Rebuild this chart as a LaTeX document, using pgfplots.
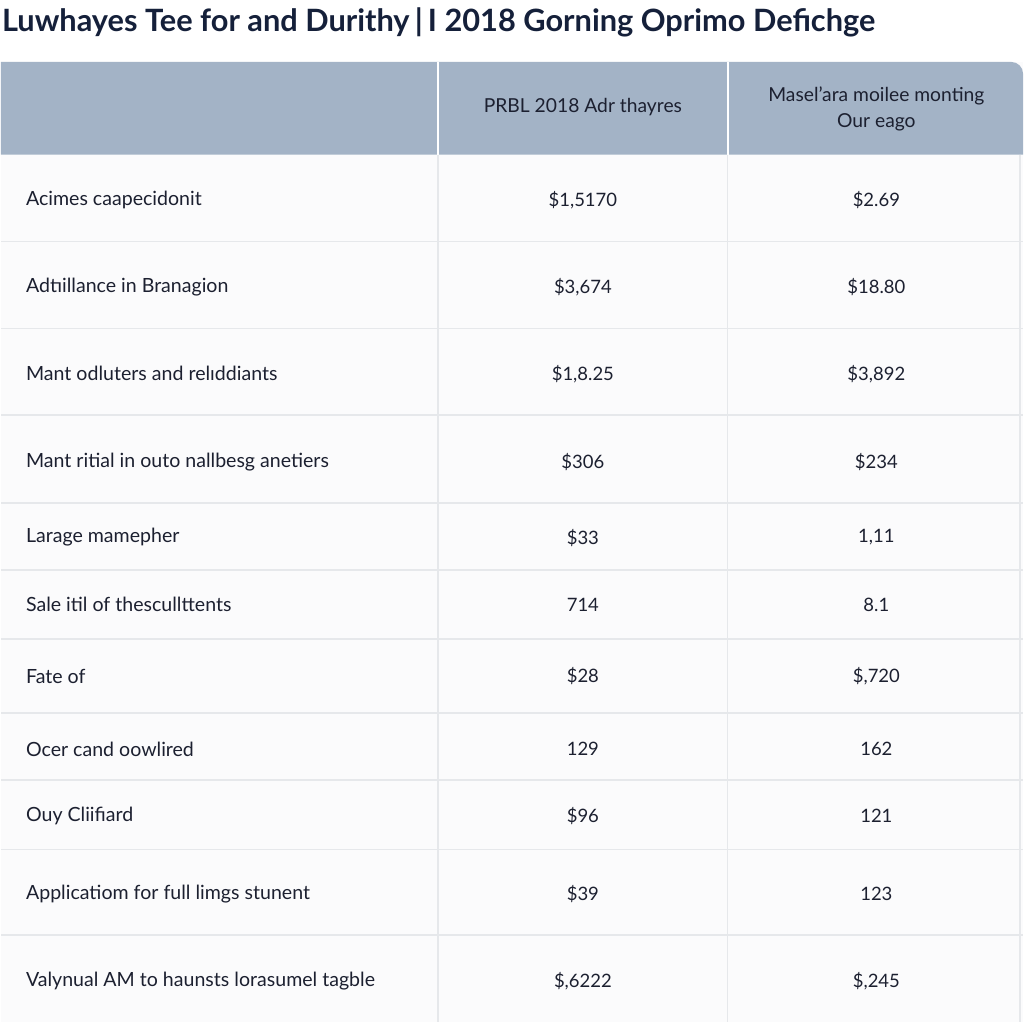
\documentclass[border=0pt]{standalone}
\usepackage{pgfplots}
\pgfplotsset{compat=1.18}
\usepackage{pgfplotstable}
\usepackage{fontspec}
\setmainfont{Lato}
\definecolor{hdr}{HTML}{A3B3C6}
\definecolor{txt}{HTML}{1C2030}
\definecolor{ttl}{HTML}{15203A}
\definecolor{gridc}{HTML}{E6E8EB}
\definecolor{bg}{HTML}{FBFBFC}

\pgfplotstableread[col sep=semicolon]{
y;label;a;b
198;Acimes caapecidonit;\$1,5170;\$2.69
285;Adtıillance in Branagion;\$3,674;\$18.80
372;Mant odluters and relıddiants;\$1,8.25;\$3,892
460;Mant ritial in outo nallbesg anetiers;\$306;\$234
536;Larage mamepher;\$33;1,11
603;Sale itil of thescullttents;714;8.1
675;Fate of;\$28;\$,720
748;Ocer cand oowlired;129;162
815;Ouy Cliifiard;\$96;121
893;Applicatiom for full limgs stunent;\$39;123
980;Valynual AM to haunsts lorasumel tagble;\$,6222;\$,245
}\rows

\begin{document}
\begin{tikzpicture}
\begin{axis}[
  scale only axis, width=1024pt, height=1024pt,
  xmin=0, xmax=1024, ymin=0, ymax=1024, y dir=reverse,
  axis lines=none, ticks=none, clip=false,
  nodes near coords, point meta=explicit symbolic,
  every node near coord/.append style={font=\fontsize{18.5}{22}\selectfont, text=txt, inner sep=0pt, yshift=-2.5pt},
]
% background
\fill[white] (axis cs:0,0) rectangle (axis cs:1024,1024);
\fill[bg] (axis cs:0,62) rectangle (axis cs:1024,1024);
% header band
\fill[hdr] (axis cs:0,155) -- (axis cs:0,62) [rounded corners=12pt] -- (axis cs:1024,62) [sharp corners] -- (axis cs:1024,155) -- cycle;
\draw[white, line width=2pt] (axis cs:438,62) -- (axis cs:438,155);
\draw[white, line width=2pt] (axis cs:728,62) -- (axis cs:728,155);
% grid
\draw[gridc, line width=1.5pt] (axis cs:438,155) -- (axis cs:438,1024);
\draw[gridc, line width=1.5pt] (axis cs:728,155) -- (axis cs:728,1024);
\draw[gridc, line width=1.5pt] (axis cs:1021,155) -- (axis cs:1021,1024);
\foreach \yy in {242,329,416,504,571,640,714,781,851,937} {
  \edef\temp{\noexpand\draw[gridc, line width=1.8pt] (axis cs:0,\yy) -- (axis cs:1024,\yy);}
  \temp
}
% title
\node[anchor=west, inner sep=0pt, text=ttl, font=\fontsize{30.8}{34}\selectfont\bfseries] at (axis cs:1,22) {Luwhayes Tee for and Durithy\,|\,I 2018 Gorning Oprimo Defichge};
% header text
\node[text=txt, font=\fontsize{19.3}{23}\selectfont] at (axis cs:583,107) {PRBL 2018 Adr thayres};
\node[text=txt, font=\fontsize{19.3}{23}\selectfont, align=center] at (axis cs:877,109.5) {Masel'ara moilee monting\\[3pt]Our eago};
% cells
\addplot[draw=none, mark=none, every node near coord/.append style={anchor=west, font=\fontsize{19.6}{23}\selectfont}]
  table[x expr=25, y=y, meta=label] {\rows};
\addplot[draw=none, mark=none, every node near coord/.append style={anchor=center}]
  table[x expr=583, y=y, meta=a] {\rows};
\addplot[draw=none, mark=none, every node near coord/.append style={anchor=center}]
  table[x expr=877, y=y, meta=b] {\rows};
\end{axis}
\end{tikzpicture}
\end{document}
